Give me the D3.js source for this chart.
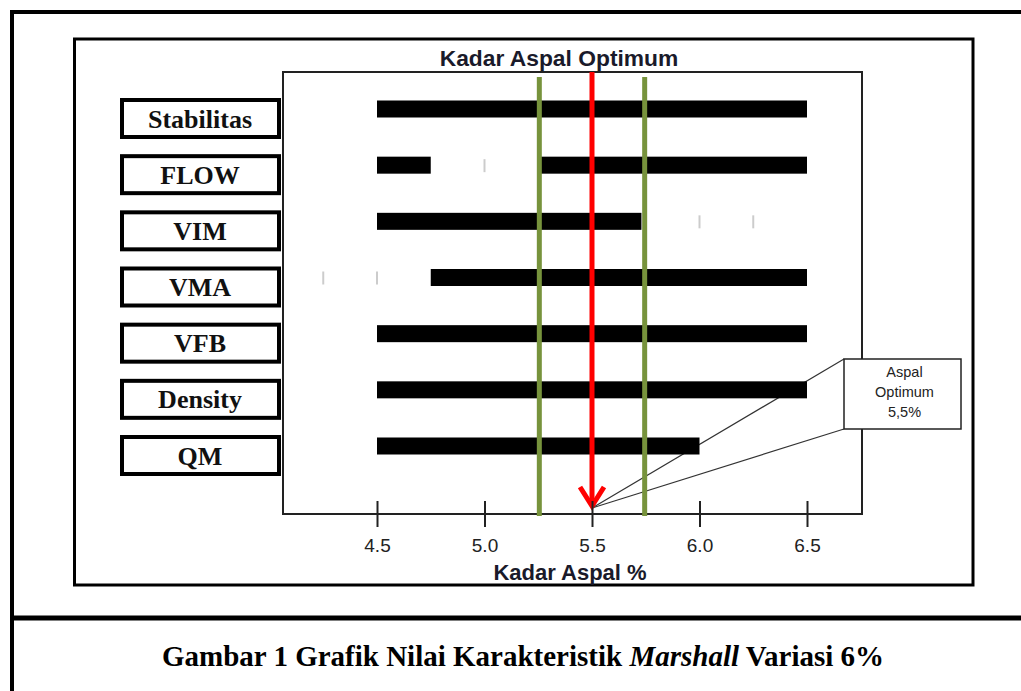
<!DOCTYPE html>
<html>
<head>
<meta charset="utf-8">
<script src="https://cdn.jsdelivr.net/npm/d3@7"></script>
<style>
  body { margin: 0; background: #fff; }
  svg { display: block; }
</style>
</head>
<body>
<div id="chart"></div>
<script>
// Chart data
const categories = ["Stabilitas", "FLOW", "VIM", "VMA", "VFB", "Density", "QM"];
// ranges of kadar aspal that meet the spec, per category
const barRanges = [
    [[4.5, 6.5]],
    [[4.5, 4.75], [5.25, 6.5]],
    [[4.5, 5.73]],
    [[4.75, 6.5]],
    [[4.5, 6.5]],
    [[4.5, 6.5]],
    [[4.5, 6.0]]
];
// faint leftover marks in the gaps
const faintMarks = [["FLOW", 5.0], ["VIM", 6.0], ["VIM", 6.25], ["VMA", 4.25], ["VMA", 4.5]];
const xTicks = [4.5, 5.0, 5.5, 6.0, 6.5];
const optimumBounds = [5.255, 5.745];
const optimum = 5.5;
const calloutLines = ["Aspal", "Optimum", "5,5%"];

const width = 1021;
const height = 691;

const svg = d3.select("#chart").append("svg")
    .attr("width", width)
    .attr("height", height);

// Page frame
svg.append("line").attr("x1", 12).attr("x2", 12).attr("y1", 10).attr("y2", height)
    .attr("stroke", "#000").attr("stroke-width", 4);
svg.append("line").attr("x1", 10).attr("x2", width).attr("y1", 12).attr("y2", 12)
    .attr("stroke", "#000").attr("stroke-width", 4);
svg.append("line").attr("x1", 10).attr("x2", width).attr("y1", 618).attr("y2", 618)
    .attr("stroke", "#000").attr("stroke-width", 5);

// Chart frame
svg.append("rect").attr("x", 74.5).attr("y", 39).attr("width", 898.5).attr("height", 546)
    .attr("fill", "none").attr("stroke", "#000").attr("stroke-width", 3);

// Plot area
const plot = { left: 283, right: 862, top: 72, bottom: 514 };

const x = d3.scaleLinear()
    .domain([4.5, 6.5])
    .range([377, 807]);

const y = d3.scalePoint()
    .domain(categories)
    .range([109, 446]);

const barH = 17;
const tipY = 508;

svg.append("rect")
    .attr("x", plot.left).attr("y", plot.top)
    .attr("width", plot.right - plot.left).attr("height", plot.bottom - plot.top)
    .attr("fill", "none").attr("stroke", "#222").attr("stroke-width", 2);

// Title
svg.append("text")
    .attr("x", 559).attr("y", 66)
    .attr("text-anchor", "middle")
    .attr("font-family", "Liberation Sans, Arial, sans-serif")
    .attr("font-weight", "bold")
    .attr("font-size", 22.8)
    .attr("fill", "#1a1a2a")
    .text("Kadar Aspal Optimum");

// Category label boxes
const labels = svg.append("g").selectAll("g")
    .data(categories)
    .enter().append("g")
    .attr("transform", d => `translate(0,${y(d) + 9.5})`);

labels.append("rect")
    .attr("x", 122).attr("y", -18.5)
    .attr("width", 157).attr("height", 37)
    .attr("fill", "#fff").attr("stroke", "#000").attr("stroke-width", 4);

labels.append("text")
    .attr("x", 200).attr("y", 9)
    .attr("text-anchor", "middle")
    .attr("font-family", "Liberation Serif, Times New Roman, serif")
    .attr("font-weight", "bold")
    .attr("font-size", 26)
    .attr("fill", "#111")
    .text(d => d);

// Callout box
const box = { x: 844, y: 359, w: 117, h: 70 };
svg.append("g").selectAll("line")
    .data([box.y, box.y + box.h])
    .enter().append("line")
    .attr("x1", x(optimum)).attr("y1", tipY)
    .attr("x2", box.x).attr("y2", d => d)
    .attr("stroke", "#333").attr("stroke-width", 1.2);

svg.append("rect")
    .attr("x", box.x).attr("y", box.y).attr("width", box.w).attr("height", box.h)
    .attr("fill", "#fff").attr("stroke", "#222").attr("stroke-width", 1.5);

svg.append("g").selectAll("text")
    .data(calloutLines)
    .enter().append("text")
    .attr("x", box.x + box.w / 2 + 2)
    .attr("y", (d, i) => 377 + i * 20)
    .attr("text-anchor", "middle")
    .attr("font-family", "Liberation Sans, Arial, sans-serif")
    .attr("font-size", 14.5)
    .attr("fill", "#222")
    .text(d => d);

// Faint marks
svg.append("g").selectAll("line")
    .data(faintMarks)
    .enter().append("line")
    .attr("x1", d => x(d[1])).attr("x2", d => x(d[1]))
    .attr("y1", d => y(d[0]) - 6).attr("y2", d => y(d[0]) + 7)
    .attr("stroke", "#ccc").attr("stroke-width", 2);

// Bars
const segs = [];
categories.forEach((c, i) => barRanges[i].forEach(r => segs.push({ cat: c, start: r[0], end: r[1] })));

svg.append("g").selectAll("rect")
    .data(segs)
    .enter().append("rect")
    .attr("x", d => x(d.start))
    .attr("y", d => y(d.cat) - barH / 2)
    .attr("width", d => x(d.end) - x(d.start))
    .attr("height", barH)
    .attr("fill", "#000");

// Optimum bounds (green)
svg.append("g").selectAll("line")
    .data(optimumBounds)
    .enter().append("line")
    .attr("x1", d => x(d)).attr("x2", d => x(d))
    .attr("y1", 77).attr("y2", 516)
    .attr("stroke", "#77933c").attr("stroke-width", 5);

// Optimum arrow (red)
svg.append("line")
    .attr("x1", x(optimum)).attr("x2", x(optimum))
    .attr("y1", plot.top).attr("y2", tipY - 2)
    .attr("stroke", "#ff0000").attr("stroke-width", 5);

svg.append("path")
    .attr("d", `M${x(optimum) - 12},${tipY - 21} L${x(optimum)},${tipY - 2} L${x(optimum) + 12},${tipY - 21}`)
    .attr("fill", "none").attr("stroke", "#ff0000").attr("stroke-width", 5)
    .attr("stroke-linejoin", "miter");

// X axis
const xAxis = svg.append("g")
    .attr("transform", `translate(0,${plot.bottom})`)
    .call(d3.axisBottom(x).tickValues(xTicks).tickFormat(d3.format(".1f")).tickSize(13).tickPadding(12));

xAxis.select(".domain").remove();
xAxis.selectAll(".tick line")
    .attr("y1", -13)
    .attr("stroke", "#222").attr("stroke-width", 2);
xAxis.selectAll(".tick text")
    .attr("font-family", "Liberation Sans, Arial, sans-serif")
    .attr("font-size", 19)
    .attr("fill", "#222");

svg.append("text")
    .attr("x", 570).attr("y", 580)
    .attr("text-anchor", "middle")
    .attr("font-family", "Liberation Sans, Arial, sans-serif")
    .attr("font-weight", "bold")
    .attr("font-size", 22)
    .attr("fill", "#1a1a2a")
    .text("Kadar Aspal %");

// Caption
const caption = svg.append("text")
    .attr("x", 523).attr("y", 666)
    .attr("text-anchor", "middle")
    .attr("font-family", "Liberation Serif, Times New Roman, serif")
    .attr("font-weight", "bold")
    .attr("font-size", 29)
    .attr("fill", "#000");
caption.append("tspan").text("Gambar 1 Grafik Nilai Karakteristik ");
caption.append("tspan").attr("font-style", "italic").text("Marshall");
caption.append("tspan").text(" Variasi 6%");
</script>
</body>
</html>
